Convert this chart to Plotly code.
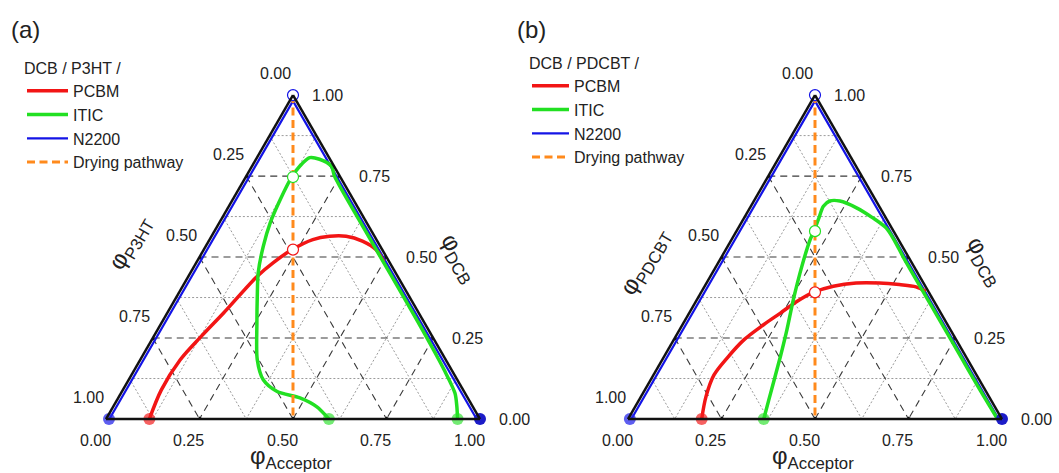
import math
import plotly.graph_objects as go

# ---------------- data ----------------
# Each curve: DCB volume fraction and acceptor volume fraction; polymer = remainder
# Panel (a): DCB / P3HT / acceptor
a_pcbm_dcb = [0.0, 0.09, 0.183, 0.255, 0.328, 0.441, 0.483, 0.523, 0.554, 0.564, 0.564, 0.549, 0.523, 0.486]
a_pcbm_acc = [0.116, 0.103, 0.107, 0.127, 0.151, 0.184, 0.206, 0.236, 0.276, 0.316, 0.360, 0.411, 0.460, 0.500]

a_itic_dcb = [0.0, 0.038, 0.065, 0.085, 0.121, 0.183, 0.297, 0.379, 0.452, 0.533, 0.607, 0.678, 0.747,
              0.781, 0.807, 0.802, 0.781, 0.75, 0.6, 0.45, 0.3, 0.2, 0.152, 0.08, 0.04, 0.0]
a_itic_acc = [0.596, 0.544, 0.486, 0.415, 0.360, 0.313, 0.255, 0.215, 0.181, 0.154, 0.136, 0.127, 0.123,
              0.128, 0.141, 0.170, 0.212, 0.236, 0.384, 0.534, 0.684, 0.782, 0.828, 0.893, 0.918, 0.94]

# Panel (b): DCB / PDCBT / acceptor
b_pcbm_dcb = [0.0, 0.069, 0.136, 0.189, 0.245, 0.291, 0.327, 0.363, 0.391, 0.41, 0.42, 0.42, 0.415, 0.408, 0.394]
b_pcbm_acc = [0.197, 0.174, 0.162, 0.171, 0.188, 0.217, 0.244, 0.270, 0.300, 0.344, 0.400, 0.462, 0.518, 0.566, 0.599]

b_itic_dcb = [0.0, 0.059, 0.193, 0.276, 0.368, 0.472, 0.554, 0.58, 0.616, 0.657, 0.673, 0.673, 0.652,
              0.621, 0.59, 0.554, 0.5, 0.35, 0.2, 0.1, 0.0]
b_itic_acc = [0.363, 0.347, 0.311, 0.287, 0.258, 0.229, 0.21, 0.207, 0.201, 0.194, 0.203, 0.230, 0.285,
              0.344, 0.395, 0.434, 0.486, 0.636, 0.786, 0.886, 0.988]

# N2200 binodal (runs along the two edges, just inside them)
n2200_dcb = [0.0, 0.98, 1.0, 0.98, 0.0]
n2200_acc = [0.009, 0.009, 0.0, 0.011, 0.991]

# Drying pathway: polymer:acceptor 1:1 -> acceptor share of solids
pathway_dcb = [1.0, 0.0]
pathway_acc_share = 0.5

# end points on the dry (DCB = 0) axis
a_end_pcbm_acc = [0.116]
a_end_itic_acc = [0.596, 0.94]
b_end_pcbm_acc = [0.197]
b_end_itic_acc = [0.363]
end_n2200_acc_a = [0.008]
end_n2200_acc_b = [0.005]
end_n2200_right_acc = [1.0]

# intersections of the drying pathway with the binodals (DCB fraction)
a_cross_pcbm = [0.523]
a_cross_itic = [0.747]
b_cross_pcbm = [0.391]
b_cross_itic = [0.58]
cross_n2200 = [1.0]

major_ticks = [0.0, 0.25, 0.5, 0.75, 1.0]
minor_ticks = [0.125, 0.375, 0.625, 0.875]
grid_major = [0.25, 0.5, 0.75]

# ---------------- styling / layout ----------------
W, HT = 1059, 473
L = 374.0
H = L * math.sqrt(3) / 2
YB = 419.0
FONT = "Liberation Sans, Arial, sans-serif"
TXT = "#222222"
RED = "#f21515"
GREEN = "#22e022"
BLUE = "#1414e6"
ORANGE = "#ff8a1c"

panels = {
    "a": dict(x0=106.0, sub="ternary", legend="legend", polymer="P3HT",
              pcbm=(a_pcbm_dcb, a_pcbm_acc), itic=(a_itic_dcb, a_itic_acc),
              end_pcbm=a_end_pcbm_acc, end_itic=a_end_itic_acc, end_n2200=end_n2200_acc_a,
              cross_pcbm=a_cross_pcbm, cross_itic=a_cross_itic,
              ltitle=(24, 243), rtitle=(-21, 258)),
    "b": dict(x0=628.0, sub="ternary2", legend="legend2", polymer="PDCBT",
              pcbm=(b_pcbm_dcb, b_pcbm_acc), itic=(b_itic_dcb, b_itic_acc),
              end_pcbm=b_end_pcbm_acc, end_itic=b_end_itic_acc, end_n2200=end_n2200_acc_b,
              cross_pcbm=b_cross_pcbm, cross_itic=b_cross_itic,
              ltitle=(17, 262), rtitle=(-17, 261)),
}


def rem(dcb, acc):
    return [1.0 - d - c for d, c in zip(dcb, acc)]


def to_paper(x0, a, b, c):
    px = x0 + L * (c + a / 2.0)
    py = YB - a * H
    return px / W, 1 - py / HT


fig = go.Figure()


def add_lines(sub, segs, color, width, dash):
    A, B, C = [], [], []
    for (p, q) in segs:
        A += [p[0], q[0], None]
        B += [p[1], q[1], None]
        C += [p[2], q[2], None]
    fig.add_trace(go.Scatterternary(a=A, b=B, c=C, mode="lines", subplot=sub,
                                    line=dict(color=color, width=width, dash=dash),
                                    cliponaxis=False, showlegend=False, hoverinfo="skip"))


def grid_segs(vals):
    segs = []
    for v in vals:
        segs.append(((v, 1 - v, 0), (v, 0, 1 - v)))      # constant DCB
        segs.append(((1 - v, v, 0), (0, v, 1 - v)))      # constant polymer
        segs.append(((1 - v, 0, v), (0, 1 - v, v)))      # constant acceptor
    return segs


def tick_segs(vals, t_out, t_in):
    segs = []
    for v in vals:
        for p, d in (((1 - v, v, 0.0), (1, 0, -1)),     # left edge (polymer)
                     ((v, 0.0, 1 - v), (0, -1, 1)),     # right edge (DCB)
                     ((0.0, 1 - v, v), (-1, 1, 0))):    # bottom edge (acceptor)
            segs.append((tuple(p[i] - t_in * d[i] for i in range(3)),
                         tuple(p[i] + t_out * d[i] for i in range(3))))
    return segs


annotations = []
tfont = dict(family=FONT, size=16, color=TXT)
big = dict(family=FONT, size=24, color=TXT)


def ann(x, y, text, font, **kw):
    d = dict(x=x, y=y, xref="paper", yref="paper", text=text, showarrow=False, font=font,
             xanchor="center", yanchor="middle")
    d.update(kw)
    annotations.append(d)


for key, P in panels.items():
    sub = P["sub"]; lg = P["legend"]; x0 = P["x0"]
    add_lines(sub, grid_segs(minor_ticks), "#9a9a9a", 1, "2px,2px")
    add_lines(sub, grid_segs(grid_major), "#3a3a3a", 1.1, "7px,5px")
    add_lines(sub, tick_segs(minor_ticks, 4.5 / L, 0.0), "#111111", 2, "solid")
    add_lines(sub, tick_segs(major_ticks, 10.0 / L, 2.0 / L), "#111111", 3, "solid")

    # N2200
    fig.add_trace(go.Scatterternary(a=n2200_dcb, b=rem(n2200_dcb, n2200_acc), c=n2200_acc,
                                    mode="lines", subplot=sub, name="N2200", legend=lg,
                                    line=dict(color=BLUE, width=2.2), cliponaxis=False, legendrank=3))
    # PCBM
    d, c = P["pcbm"]
    fig.add_trace(go.Scatterternary(a=d, b=rem(d, c), c=c, mode="lines", subplot=sub, name="PCBM",
                                    legend=lg, line=dict(color=RED, width=3.5, shape="spline", smoothing=0.9),
                                    legendrank=1))
    # ITIC
    d, c = P["itic"]
    fig.add_trace(go.Scatterternary(a=d, b=rem(d, c), c=c, mode="lines", subplot=sub, name="ITIC",
                                    legend=lg, line=dict(color=GREEN, width=3.5, shape="spline", smoothing=0.8),
                                    legendrank=2))
    # drying pathway
    pa = pathway_dcb
    pc = [(1 - v) * pathway_acc_share for v in pa]
    fig.add_trace(go.Scatterternary(a=pa, b=rem(pa, pc), c=pc, mode="lines", subplot=sub,
                                    name="Drying pathway", legend=lg,
                                    line=dict(color=ORANGE, width=3, dash="8px,4.5px"), legendrank=4))

    # filled end points on the DCB = 0 axis
    def dots(accs, color, size=12):
        z = [0.0] * len(accs)
        fig.add_trace(go.Scatterternary(a=z, b=rem(z, accs), c=accs, mode="markers", subplot=sub,
                                        marker=dict(color=color, size=size, line=dict(width=0)),
                                        cliponaxis=False, showlegend=False, hoverinfo="skip"))
    dots(P["end_pcbm"], "rgba(242,30,30,0.7)")
    dots(P["end_itic"], "rgba(40,225,40,0.65)")
    dots(P["end_n2200"], "rgba(40,40,235,0.75)")
    dots(end_n2200_right_acc, "#1c1cc8")

    # open circles where the pathway crosses the binodals
    def opens(dcbs, color):
        cc = [(1 - v) * pathway_acc_share for v in dcbs]
        fig.add_trace(go.Scatterternary(a=dcbs, b=rem(dcbs, cc), c=cc, mode="markers", subplot=sub,
                                        marker=dict(color="white", size=11, line=dict(color=color, width=1.2)),
                                        cliponaxis=False, showlegend=False, hoverinfo="skip"))
    opens(P["cross_pcbm"], RED)
    opens(P["cross_itic"], GREEN)
    opens(cross_n2200, BLUE)

    # tick labels
    for v in major_ticks:
        xp, yp = to_paper(x0, 1 - v, v, 0)
        ann(xp, yp, f"{v:.2f}", tfont, xshift=-18, yshift=22)
        xp, yp = to_paper(x0, v, 0, 1 - v)
        ann(xp, yp, f"{v:.2f}", tfont, xshift=17, xanchor="left")
        xp, yp = to_paper(x0, 0, 1 - v, v)
        ann(xp, yp, f"{v:.2f}", tfont, xshift=-11, yshift=-21)

    # axis titles
    lx, ly = P["ltitle"]
    ann((x0 + lx) / W, 1 - ly / HT, f"φ<sub>{P['polymer']}</sub>", big, textangle=-60)
    rx, ry = P["rtitle"]
    ann((x0 + L + rx) / W, 1 - ry / HT, "φ<sub>DCB</sub>", big, textangle=60)
    ann((x0 + L / 2 - 2) / W, 1 - 457 / HT, "φ<sub>Acceptor</sub>", big)

ann(25 / W, 1 - 29 / HT, "(a)", big)
ann(531 / W, 1 - 29 / HT, "(b)", big)


def ternary_layout(x0):
    ax = dict(showticklabels=False, ticks="", showgrid=False, showline=True, linecolor="#111111",
              linewidth=2.5, title=dict(text=""), min=0)
    yc = 1 - (YB - H / 2) / HT
    return dict(domain=dict(x=[x0 / W, (x0 + L) / W], y=[yc - 0.42, yc + 0.42]),
                sum=1, bgcolor="white", aaxis=ax, baxis=ax, caxis=ax)


def legend_layout(x, y, title, iw):
    return dict(x=x / W, y=1 - y / HT, xanchor="left", yanchor="top",
                title=dict(text=title, font=dict(family=FONT, size=16, color=TXT)),
                font=dict(family=FONT, size=16, color=TXT), bgcolor="rgba(0,0,0,0)",
                borderwidth=0, tracegroupgap=0, itemwidth=iw)


fig.update_layout(
    width=W, height=HT,
    margin=dict(l=0, r=0, t=0, b=0),
    paper_bgcolor="white",
    font=dict(family=FONT, color=TXT),
    ternary=ternary_layout(panels["a"]["x0"]),
    ternary2=ternary_layout(panels["b"]["x0"]),
    legend=legend_layout(22, 53, "DCB / P3HT /", 41),
    legend2=legend_layout(527, 48, "DCB / PDCBT /", 37),
    annotations=annotations,
    showlegend=True,
)

fig.write_html("out.html", config={"displayModeBar": False},
               post_script="document.body.style.margin='0px';document.body.style.padding='0px';")
